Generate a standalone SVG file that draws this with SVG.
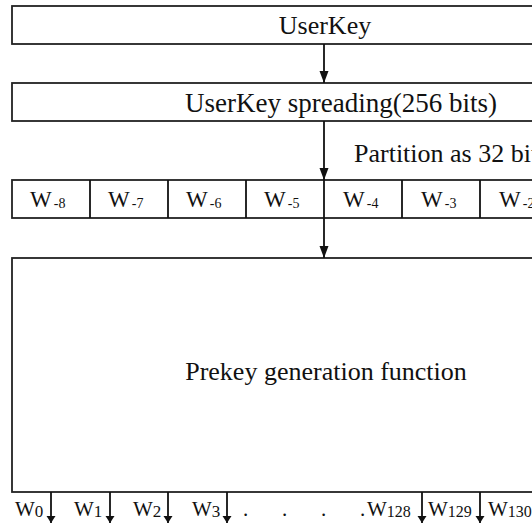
<svg xmlns="http://www.w3.org/2000/svg" width="532" height="528" viewBox="0 0 532 528">
<style>
.box{fill:#fff;stroke:#222;stroke-width:1.8}
.t{font-family:"Liberation Serif","Times New Roman",serif;fill:#111}
.big{font-size:26px}
.w{font-size:23px}
.sub{font-size:14px}
.ow{font-size:21px}
.os{font-size:17px}
.os3{font-size:16px}
.ln{stroke:#111;stroke-width:1.8;fill:none}
</style>
<defs>
<marker id="big" markerUnits="userSpaceOnUse" markerWidth="14" markerHeight="10" refX="12" refY="4.5" orient="auto">
<path d="M0,0 L12,4.5 L0,9 Z" fill="#111"/>
</marker>
<marker id="sm" markerUnits="userSpaceOnUse" markerWidth="10" markerHeight="10" refX="7" refY="4.5" orient="auto">
<path d="M0,0 L7,4.5 L0,9 Z" fill="#111"/>
</marker>
</defs>
<g id="userkey">
<rect class="box" x="12" y="6" width="625" height="38"/>
<text class="t big" x="325" y="34" text-anchor="middle">UserKey</text>
</g>
<g id="spreading">
<rect class="box" x="12" y="83" width="625" height="38"/>
<text class="t" style="font-size:27px" x="185" y="112">UserKey spreading(256 bits)</text>
</g>
<g id="partition-label">
<text class="t big" x="354" y="162">Partition as 32 bits</text>
</g>
<g id="words">
<rect class="box" x="12" y="180" width="625" height="38"/>
<line class="ln" x1="90" y1="180" x2="90" y2="218"/>
<line class="ln" x1="168" y1="180" x2="168" y2="218"/>
<line class="ln" x1="246" y1="180" x2="246" y2="218"/>
<line class="ln" x1="324" y1="180" x2="324" y2="218"/>
<line class="ln" x1="402" y1="180" x2="402" y2="218"/>
<line class="ln" x1="480" y1="180" x2="480" y2="218"/>
<line class="ln" x1="558" y1="180" x2="558" y2="218"/>
<text class="t w" x="30" y="207">W<tspan class="sub" dx="2" dy="1">-8</tspan></text>
<text class="t w" x="108" y="207">W<tspan class="sub" dx="2" dy="1">-7</tspan></text>
<text class="t w" x="186" y="207">W<tspan class="sub" dx="2" dy="1">-6</tspan></text>
<text class="t w" x="264" y="207">W<tspan class="sub" dx="2" dy="1">-5</tspan></text>
<text class="t w" x="343" y="207">W<tspan class="sub" dx="2" dy="1">-4</tspan></text>
<text class="t w" x="421" y="207">W<tspan class="sub" dx="2" dy="1">-3</tspan></text>
<text class="t w" x="499" y="207">W<tspan class="sub" dx="2" dy="1">-2</tspan></text>
<text class="t w" x="577" y="207">W<tspan class="sub" dx="2" dy="1">-1</tspan></text>
</g>
<g id="prekey">
<rect class="box" x="12" y="258" width="625" height="234"/>
<text class="t big" x="326" y="380" text-anchor="middle">Prekey generation function</text>
</g>
<g id="outputs">
<text class="t ow" x="15" y="516">W<tspan class="os" dy="1">0</tspan></text>
<text class="t ow" x="74" y="516">W<tspan class="os" dy="1">1</tspan></text>
<text class="t ow" x="133" y="516">W<tspan class="os" dy="1">2</tspan></text>
<text class="t ow" x="192" y="516">W<tspan class="os" dy="1">3</tspan></text>
<text class="t ow" x="243" y="516">.</text>
<text class="t ow" x="282" y="516">.</text>
<text class="t ow" x="321" y="516">.</text>
<text class="t ow" x="360" y="516">.</text>
<text class="t ow" x="367" y="516">W<tspan class="os3" dy="1">128</tspan></text>
<text class="t ow" x="428" y="516">W<tspan class="os3" dy="1">129</tspan></text>
<text class="t ow" x="488" y="516">W<tspan class="os3" dy="1">130</tspan></text>
</g>
<g id="connectors">
<line class="ln" x1="324" y1="44" x2="324" y2="83" marker-end="url(#big)"/>
<line class="ln" x1="324" y1="121" x2="324" y2="180" marker-end="url(#big)"/>
<line class="ln" x1="324" y1="218" x2="324" y2="258" marker-end="url(#big)"/>
<line class="ln" x1="51" y1="492" x2="51" y2="523" marker-end="url(#sm)"/>
<line class="ln" x1="110" y1="492" x2="110" y2="523" marker-end="url(#sm)"/>
<line class="ln" x1="168" y1="492" x2="168" y2="523" marker-end="url(#sm)"/>
<line class="ln" x1="227" y1="492" x2="227" y2="523" marker-end="url(#sm)"/>
<line class="ln" x1="422" y1="492" x2="422" y2="523" marker-end="url(#sm)"/>
<line class="ln" x1="480" y1="492" x2="480" y2="523" marker-end="url(#sm)"/>
</g>
</svg>
